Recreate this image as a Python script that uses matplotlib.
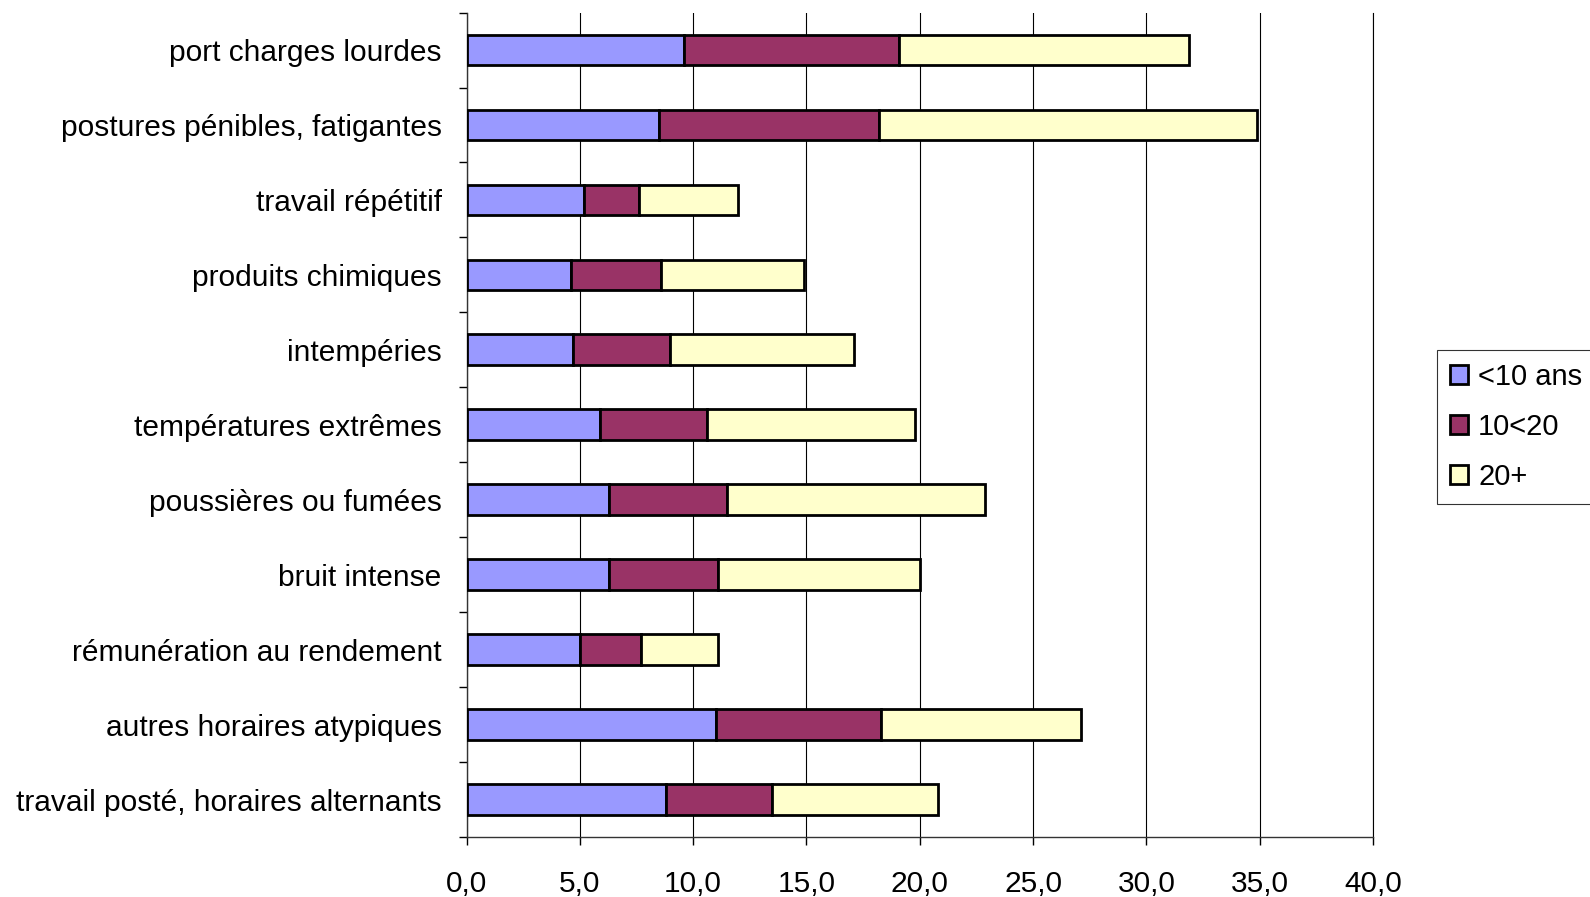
import matplotlib
matplotlib.use("Agg")
import matplotlib.pyplot as plt
import numpy as np
from matplotlib.ticker import FixedLocator, FuncFormatter

plt.rcParams['font.family'] = ['Liberation Sans', 'DejaVu Sans']

# catégories, de haut en bas
categories = [
    "port charges lourdes",
    "postures pénibles, fatigantes",
    "travail répétitif",
    "produits chimiques",
    "intempéries",
    "températures extrêmes",
    "poussières ou fumées",
    "bruit intense",
    "rémunération au rendement",
    "autres horaires atypiques",
    "travail posté, horaires alternants",
]
moins_10 = [9.6, 8.5, 5.2, 4.6, 4.7, 5.9, 6.3, 6.3, 5.0, 11.0, 8.8]
de_10_a_20 = [9.5, 9.7, 2.4, 4.0, 4.3, 4.7, 5.2, 4.8, 2.7, 7.3, 4.7]
plus_20 = [12.8, 16.7, 4.4, 6.3, 8.1, 9.2, 11.4, 8.9, 3.4, 8.8, 7.3]
series_labels = ["<10 ans", "10<20", "20+"]
colors = ["#9999FF", "#993366", "#FFFFCC"]
x_ticks = [0, 5, 10, 15, 20, 25, 30, 35, 40]

fig = plt.figure(figsize=(15.9, 8.97), dpi=100)
ax = fig.add_axes([0.2934, 0.0669, 0.5701, 0.9191])

y = np.arange(len(categories))
left = np.zeros(len(categories))
for vals, lab, col in zip([moins_10, de_10_a_20, plus_20], series_labels, colors):
    ax.barh(y, vals, left=left, height=0.41, color=col, edgecolor="black",
            linewidth=2.0, label=lab, zorder=3)
    left += np.array(vals)

ax.set_ylim(len(categories) - 0.5, -0.5)
ax.set_xlim(0, 40)

ax.set_yticks(y)
ax.set_yticklabels(categories, fontsize=21.5)
ax.tick_params(axis="y", which="major", length=0, pad=18)
ax.yaxis.set_minor_locator(FixedLocator(np.arange(-0.5, len(categories), 1.0)))
ax.tick_params(axis="y", which="minor", length=6, width=1, direction="out")

ax.set_xticks(x_ticks)
ax.xaxis.set_major_formatter(FuncFormatter(lambda v, p: f"{v:.1f}".replace(".", ",")))
ax.tick_params(axis="x", length=6, width=1, direction="out", labelsize=21.5, pad=18)

ax.grid(axis="x", color="black", linewidth=0.8, zorder=0)
ax.axvline(40, color="black", linewidth=0.8, clip_on=False, zorder=0)
ax.spines["top"].set_visible(False)
ax.spines["right"].set_visible(False)
for s in ["left", "bottom"]:
    ax.spines[s].set_linewidth(1.0)
    ax.spines[s].set_color("#333333")

leg = fig.legend(loc="upper left", bbox_to_anchor=(0.904, 0.435, 0.2, 0.175),
                 mode="expand", fontsize=21, frameon=True, fancybox=False,
                 handlelength=0.6, handleheight=0.6, handletextpad=0.35,
                 labelspacing=0.75, borderaxespad=0, borderpad=0.45)
leg.get_frame().set_edgecolor("black")
leg.get_frame().set_linewidth(0.8)

fig.savefig("out.png", dpi=100)
